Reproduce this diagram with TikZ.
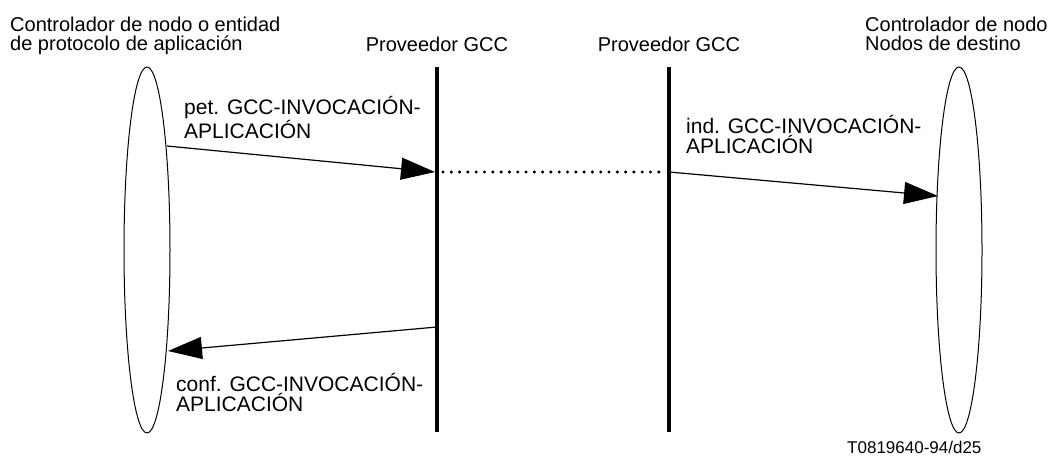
\documentclass[tikz,border=0pt]{standalone}
\usepackage{fontspec}
\setmainfont{Liberation Sans}
\usetikzlibrary{shapes.geometric,arrows.meta}

\begin{document}
\begin{tikzpicture}[x=1pt, y=-1pt,
every node/.style={inner sep=0pt, font=\fontsize{20}{19}\selectfont},
entity/.style={draw, ellipse, line width=1pt, minimum width=46pt, minimum height=366pt},
msgtext/.style={anchor=base west, align=left, font=\fontsize{21}{19.5}\selectfont},
titletext/.style={anchor=base west, align=left},
provider/.style={line width=4pt},
message/.style={-{Triangle[length=34pt,width=22pt]}, line width=1.2pt}
]
\useasboundingbox (0,0) rectangle (1052,456);

% entities at both ends
\node[entity] (ctrlA) at (147,250) {};
\node[entity] (ctrlB) at (959,250) {};

\node[titletext] (ctrlA-title) at (10,50) {Controlador de nodo o entidad\\de protocolo de aplicaci\'on};
\node[titletext] (ctrlB-title) at (865,50) {Controlador de nodo\\Nodos de destino};

% the two GCC providers
\foreach \p/\x in {provA/437, provB/669}{
    \coordinate (\p-top) at (\x,67);
    \coordinate (\p-bot) at (\x,432);
    \draw[provider] (\p-top) -- (\p-bot);
    \node[anchor=base] (\p-title) at (\x,51) {Proveedor GCC};
}

\coordinate (petS) at (167,146);
\coordinate (petE) at (435,172);
\coordinate (indS) at (669,172);
\coordinate (indE) at (938,196);
\coordinate (confS) at (437,327);
\coordinate (confE) at (168,351);
\coordinate (dotS) at (443,172);
\coordinate (dotE) at (665,172);

\foreach \i/\j in {petS/petE, indS/indE, confS/confE}
    \draw[message] (\i) -- (\j);

\draw[line width=3.4pt, line cap=round, dash pattern=on 0pt off 8.3pt] (dotS) -- (dotE);

\node[msgtext] (pet) at (184,138) {pet. GCC-INVOCACI\'ON-\\APLICACI\'ON};
\node[msgtext] (ind) at (686,153) {ind. GCC-INVOCACI\'ON-\\APLICACI\'ON};
\node[msgtext] (conf) at (176,411) {conf. GCC-INVOCACI\'ON-\\APLICACI\'ON};

\node[anchor=base west, font=\fontsize{17}{18}\selectfont] (ref) at (847,453) {T0819640-94/d25};

\end{tikzpicture}
\end{document}
